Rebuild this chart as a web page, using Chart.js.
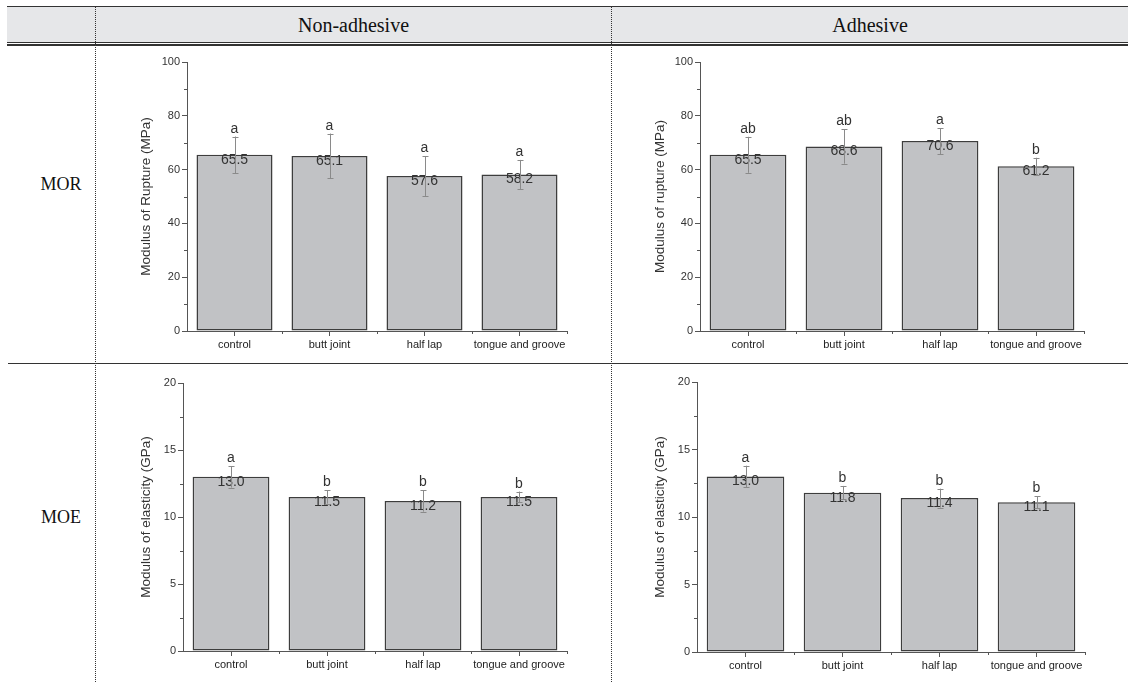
<!DOCTYPE html>
<html>
<head>
<meta charset="utf-8">
<script src="https://cdn.jsdelivr.net/npm/chart.js@4"></script>
<style>
body { margin: 0; background: #fff; }
#page { position: relative; width: 1128px; height: 682px; overflow: hidden; font-family: "Liberation Serif", "Times New Roman", serif; color: #111; }
.abs { position: absolute; }
.hline { position: absolute; background: #333; }
.vdot { position: absolute; width: 0; border-left: 1px dotted #333; }
.head { position: absolute; top: 8px; height: 34px; line-height: 34px; font-size: 20px; text-align: center; }
.row { position: absolute; font-size: 18px; width: 80px; text-align: center; }
canvas { position: absolute; }
</style>
</head>
<body>
<div id="page">
  <div class="abs" style="left:7px;top:7px;width:1121px;height:35px;background:#e6e7e9;"></div>
  <div class="hline" style="left:7px;top:6px;width:1121px;height:1px;"></div>
  <div class="hline" style="left:7px;top:42px;width:1121px;height:1px;"></div>
  <div class="hline" style="left:7px;top:44px;width:1121px;height:1.5px;"></div>
  <div class="hline" style="left:8px;top:363px;width:1120px;height:1px;"></div>
  <div class="vdot" style="left:95px;top:7px;height:675px;"></div>
  <div class="vdot" style="left:611px;top:7px;height:675px;"></div>
  <div class="head" style="left:96px;width:515px;">Non-adhesive</div>
  <div class="head" style="left:612px;width:516px;">Adhesive</div>
  <div class="row" style="left:21px;top:174px;">MOR</div>
  <div class="row" style="left:21px;top:507px;">MOE</div>
  <canvas id="c1"></canvas>
  <canvas id="c2"></canvas>
  <canvas id="c3"></canvas>
  <canvas id="c4"></canvas>
</div>
<script>
// joint types
const categories = ['control', 'butt joint', 'half lap', 'tongue and groove'];

// MOR, non-adhesive
const morNonAdh = [65.5, 65.1, 57.6, 58.2];
const morNonAdhErr = [6.8, 8.3, 7.4, 5.4];
const morNonAdhGroups = ['a', 'a', 'a', 'a'];

// MOR, adhesive
const morAdh = [65.5, 68.6, 70.6, 61.2];
const morAdhErr = [6.7, 6.4, 4.8, 3.2];
const morAdhGroups = ['ab', 'ab', 'a', 'b'];

// MOE, non-adhesive
const moeNonAdh = [13.0, 11.5, 11.2, 11.5];
const moeNonAdhErr = [0.8, 0.5, 0.8, 0.4];
const moeNonAdhGroups = ['a', 'b', 'b', 'b'];

// MOE, adhesive
const moeAdh = [13.0, 11.8, 11.4, 11.1];
const moeAdhErr = [0.8, 0.5, 0.7, 0.45];
const moeAdhGroups = ['a', 'b', 'b', 'b'];

// axis ranges
const morMax = 100, morStep = 20;
const moeMax = 20, moeStep = 5;

const SANS = '"Liberation Sans", Arial, sans-serif';
const AXIS = '#555';

// minor ticks, error bars, value labels and group letters
const annotate = {
    id: 'annotate',
    afterDatasetsDraw(chart, args, opts) {
        const ctx = chart.ctx;
        const xs = chart.scales.x, ys = chart.scales.y;
        const area = chart.chartArea;
        ctx.save();
        ctx.strokeStyle = AXIS;
        ctx.lineWidth = 1;
        for (let v = opts.step / 2; v < ys.max; v += opts.step) {
            const py = Math.round(ys.getPixelForValue(v)) + 0.5;
            ctx.beginPath(); ctx.moveTo(area.left - 3, py); ctx.lineTo(area.left, py); ctx.stroke();
        }
        for (let i = 0; i < chart.data.labels.length; i++) {
            const px = Math.round(xs.getPixelForValue(i + 0.5)) + 0.5;
            ctx.beginPath(); ctx.moveTo(px, area.bottom); ctx.lineTo(px, area.bottom + 3); ctx.stroke();
        }

        const vals = chart.data.datasets[0].data;
        const bars = chart.getDatasetMeta(0).data;
        ctx.font = '14px ' + SANS;
        ctx.fillStyle = '#333';
        ctx.textAlign = 'center';
        bars.forEach((bar, i) => {
            // value just under the bar top
            ctx.textBaseline = 'middle';
            ctx.fillText(vals[i].toFixed(1), bar.x, bar.y + 5);
        });
        ctx.strokeStyle = '#8a8a8a';
        bars.forEach((bar, i) => {
            const x = Math.round(bar.x) + 0.5;
            const hi = ys.getPixelForValue(vals[i] + opts.err[i]);
            const lo = ys.getPixelForValue(vals[i] - opts.err[i]);
            ctx.beginPath();
            ctx.moveTo(x, hi); ctx.lineTo(x, lo);
            ctx.moveTo(x - 3, Math.round(hi) + 0.5); ctx.lineTo(x + 3, Math.round(hi) + 0.5);
            ctx.moveTo(x - 3, Math.round(lo) + 0.5); ctx.lineTo(x + 3, Math.round(lo) + 0.5);
            ctx.stroke();
            ctx.textBaseline = 'alphabetic';
            ctx.fillText(opts.groups[i], bar.x, hi - 4);
        });
        ctx.restore();
    }
};

function build(id, box, plot, values, errors, groups, yMax, yStep, yTitle) {
    const cv = document.getElementById(id);
    cv.style.left = box[0] + 'px';
    cv.style.top = box[1] + 'px';
    cv.width = box[2];
    cv.height = box[3];
    const padLeft = 38;
    const yWidth = plot[0] - box[0] - padLeft;
    const xHeight = box[1] + box[3] - plot[3];

    new Chart(cv, {
        type: 'bar',
        data: {
            labels: categories,
            datasets: [{
                data: values,
                backgroundColor: '#c1c2c5',
                borderColor: '#3d3d3d',
                borderWidth: 1.5,
                borderSkipped: false,
                inflateAmount: 0,
                categoryPercentage: 0.8,
                barPercentage: 1.0
            }]
        },
        options: {
            responsive: false,
            animation: false,
            layout: {
                padding: { left: padLeft, top: plot[1] - box[1], right: box[0] + box[2] - plot[2], bottom: 0 }
            },
            plugins: {
                legend: { display: false },
                tooltip: { enabled: false },
                annotate: { err: errors, groups: groups, step: yStep }
            },
            scales: {
                x: {
                    grid: { drawOnChartArea: false, offset: false, tickLength: 5, color: AXIS },
                    border: { color: AXIS },
                    ticks: { font: { family: SANS, size: 11 }, color: '#222', padding: 2, maxRotation: 0, autoSkip: false },
                    afterFit(s) { s.height = xHeight; }
                },
                y: {
                    min: 0,
                    max: yMax,
                    ticks: { stepSize: yStep, font: { family: SANS, size: 11 }, color: '#333', padding: 2 },
                    grid: { drawOnChartArea: false, tickLength: 5, color: AXIS },
                    border: { color: AXIS },
                    title: { display: true, text: yTitle, font: { family: SANS, size: 13.5 }, color: '#333', padding: { top: 0, bottom: 4 } },
                    afterFit(s) { s.width = yWidth; }
                }
            }
        },
        plugins: [annotate]
    });
}

build('c1', [100, 48, 505, 312], [187, 62, 567, 331], morNonAdh, morNonAdhErr, morNonAdhGroups, morMax, morStep, 'Modulus of Rupture (MPa)');
build('c2', [614, 48, 510, 312], [700, 62, 1084, 331], morAdh, morAdhErr, morAdhGroups, morMax, morStep, 'Modulus of rupture (MPa)');
build('c3', [100, 368, 505, 312], [183, 383, 567, 651], moeNonAdh, moeNonAdhErr, moeNonAdhGroups, moeMax, moeStep, 'Modulus of elasticity (GPa)');
build('c4', [614, 368, 510, 312], [697, 382, 1085, 652], moeAdh, moeAdhErr, moeAdhGroups, moeMax, moeStep, 'Modulus of elasticity (GPa)');
</script>
</body>
</html>
